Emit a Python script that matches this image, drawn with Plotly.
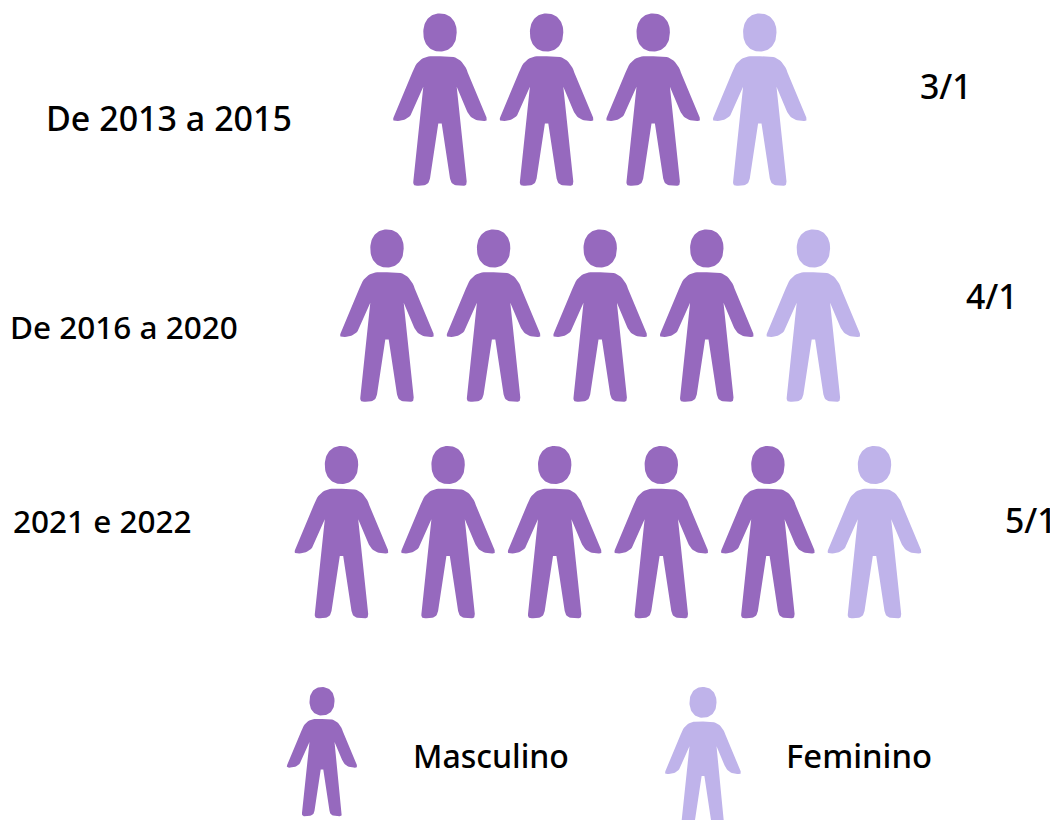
import plotly.graph_objects as go
import numpy as np

periods = ["De 2013 a 2015", "De 2016 a 2020", "2021 e 2022"]
male_counts = [3, 4, 5]
female_counts = [1, 1, 1]
ratio_labels = ["3/1", "4/1", "5/1"]
legend_labels = ["Masculino", "Feminino"]

MALE = "#9669BE"
FEMALE = "#BFB3EA"
TXT = "#000000"
FONT = "Noto Sans"

# icon placement (pixel-scaled axes; the page body has an 8px margin)
row_first_cx = [440, 387, 341.5]
row_top = [13.5, 229.5, 446]
pitch = 106.6
period_pos = [(169, 118, 34), (124, 326, 31.5), (102.5, 520, 31.5)]
ratio_pos = [(945.5, 86), (992, 296), (1031, 520)]


def bez(p0, p1, p2, p3, n=14):
    t = np.linspace(0, 1, n)[:, None]
    p0, p1, p2, p3 = map(np.array, (p0, p1, p2, p3))
    return (1-t)**3*p0 + 3*(1-t)**2*t*p1 + 3*(1-t)*t**2*p2 + t**3*p3


def half_body():
    pts = [
        np.array([[0, 42.7]]),
        bez((8, 42.7), (16, 42.7), (24, 47), (27.7, 59)),
        np.array([[46.5, 104]]),
        bez((46.5, 104), (47.5, 107), (46.5, 107.5), (44, 107.5)),
        bez((44, 107.5), (36, 107.5), (30, 105), (26.7, 97)),
        np.array([[16.7, 73.3]]),
        np.array([[26.7, 168]]),
        bez((26.7, 168), (27, 171), (26, 172.3), (23, 172.3)),
        bez((23, 172.3), (16, 172.3), (11, 172), (10, 165)),
        np.array([[1.7, 110]]),
        np.array([[0, 110]]),
    ]
    return np.vstack(pts)


def person_outline():
    r = half_body()
    l = r[::-1] * np.array([-1, 1])
    body = np.vstack([r, l, r[:1]])
    th = np.linspace(0, 2*np.pi, 72)
    e = 2.2
    hx = 16.7*np.sign(np.cos(th))*np.abs(np.cos(th))**(2/e)
    hy = 19*np.sign(np.sin(th))*np.abs(np.sin(th))**(2/e) + 19
    return body, np.column_stack([hx, hy])


BODY, HEAD = person_outline()


def glyphs(cx_list, top_list, scale):
    xs, ys = [], []
    for cx, top in zip(cx_list, top_list):
        for part in (BODY, HEAD):
            xs += list(part[:, 0]*scale + cx) + [None]
            ys += list(part[:, 1]*scale + top) + [None]
    return xs, ys


m_cx, m_top, f_cx, f_top = [], [], [], []
for i in range(len(periods)):
    for j in range(male_counts[i]):
        m_cx.append(row_first_cx[i] + j*pitch)
        m_top.append(row_top[i])
    for j in range(female_counts[i]):
        f_cx.append(row_first_cx[i] + (male_counts[i]+j)*pitch)
        f_top.append(row_top[i])

fig = go.Figure()
for name, col, cx, top, sc in [
    (legend_labels[0], MALE, m_cx, m_top, 1.0),
    (legend_labels[1], FEMALE, f_cx, f_top, 1.0),
    (legend_labels[0], MALE, [322], [687], 0.75),
    (legend_labels[1], FEMALE, [703], [687], 0.81),
]:
    x, y = glyphs(cx, top, sc)
    fig.add_trace(go.Scatter(x=x, y=y, mode="lines", fill="toself", fillcolor=col,
                             line=dict(width=0, color=col), hoverinfo="skip",
                             showlegend=False, name=name))


def label(x, y, s, size):
    fig.add_annotation(x=x, y=y, text=s, showarrow=False, xanchor="center", yanchor="middle",
                       font=dict(family=FONT, size=size, color=TXT, weight=500))


for s, (x, y, size) in zip(periods, period_pos):
    label(x, y, s, size)
for s, (x, y) in zip(ratio_labels, ratio_pos):
    label(x, y, s, 33.8)
label(490.5, 755.5, legend_labels[0], 32)
label(858.5, 755.5, legend_labels[1], 32.8)

fig.update_layout(width=1050, height=812, margin=dict(l=0, r=0, t=0, b=0),
                  paper_bgcolor="white", plot_bgcolor="white",
                  xaxis=dict(range=[8, 1058], visible=False, fixedrange=True),
                  yaxis=dict(range=[820, 8], visible=False, fixedrange=True))
fig.write_html("out.html", config=dict(displayModeBar=False))
